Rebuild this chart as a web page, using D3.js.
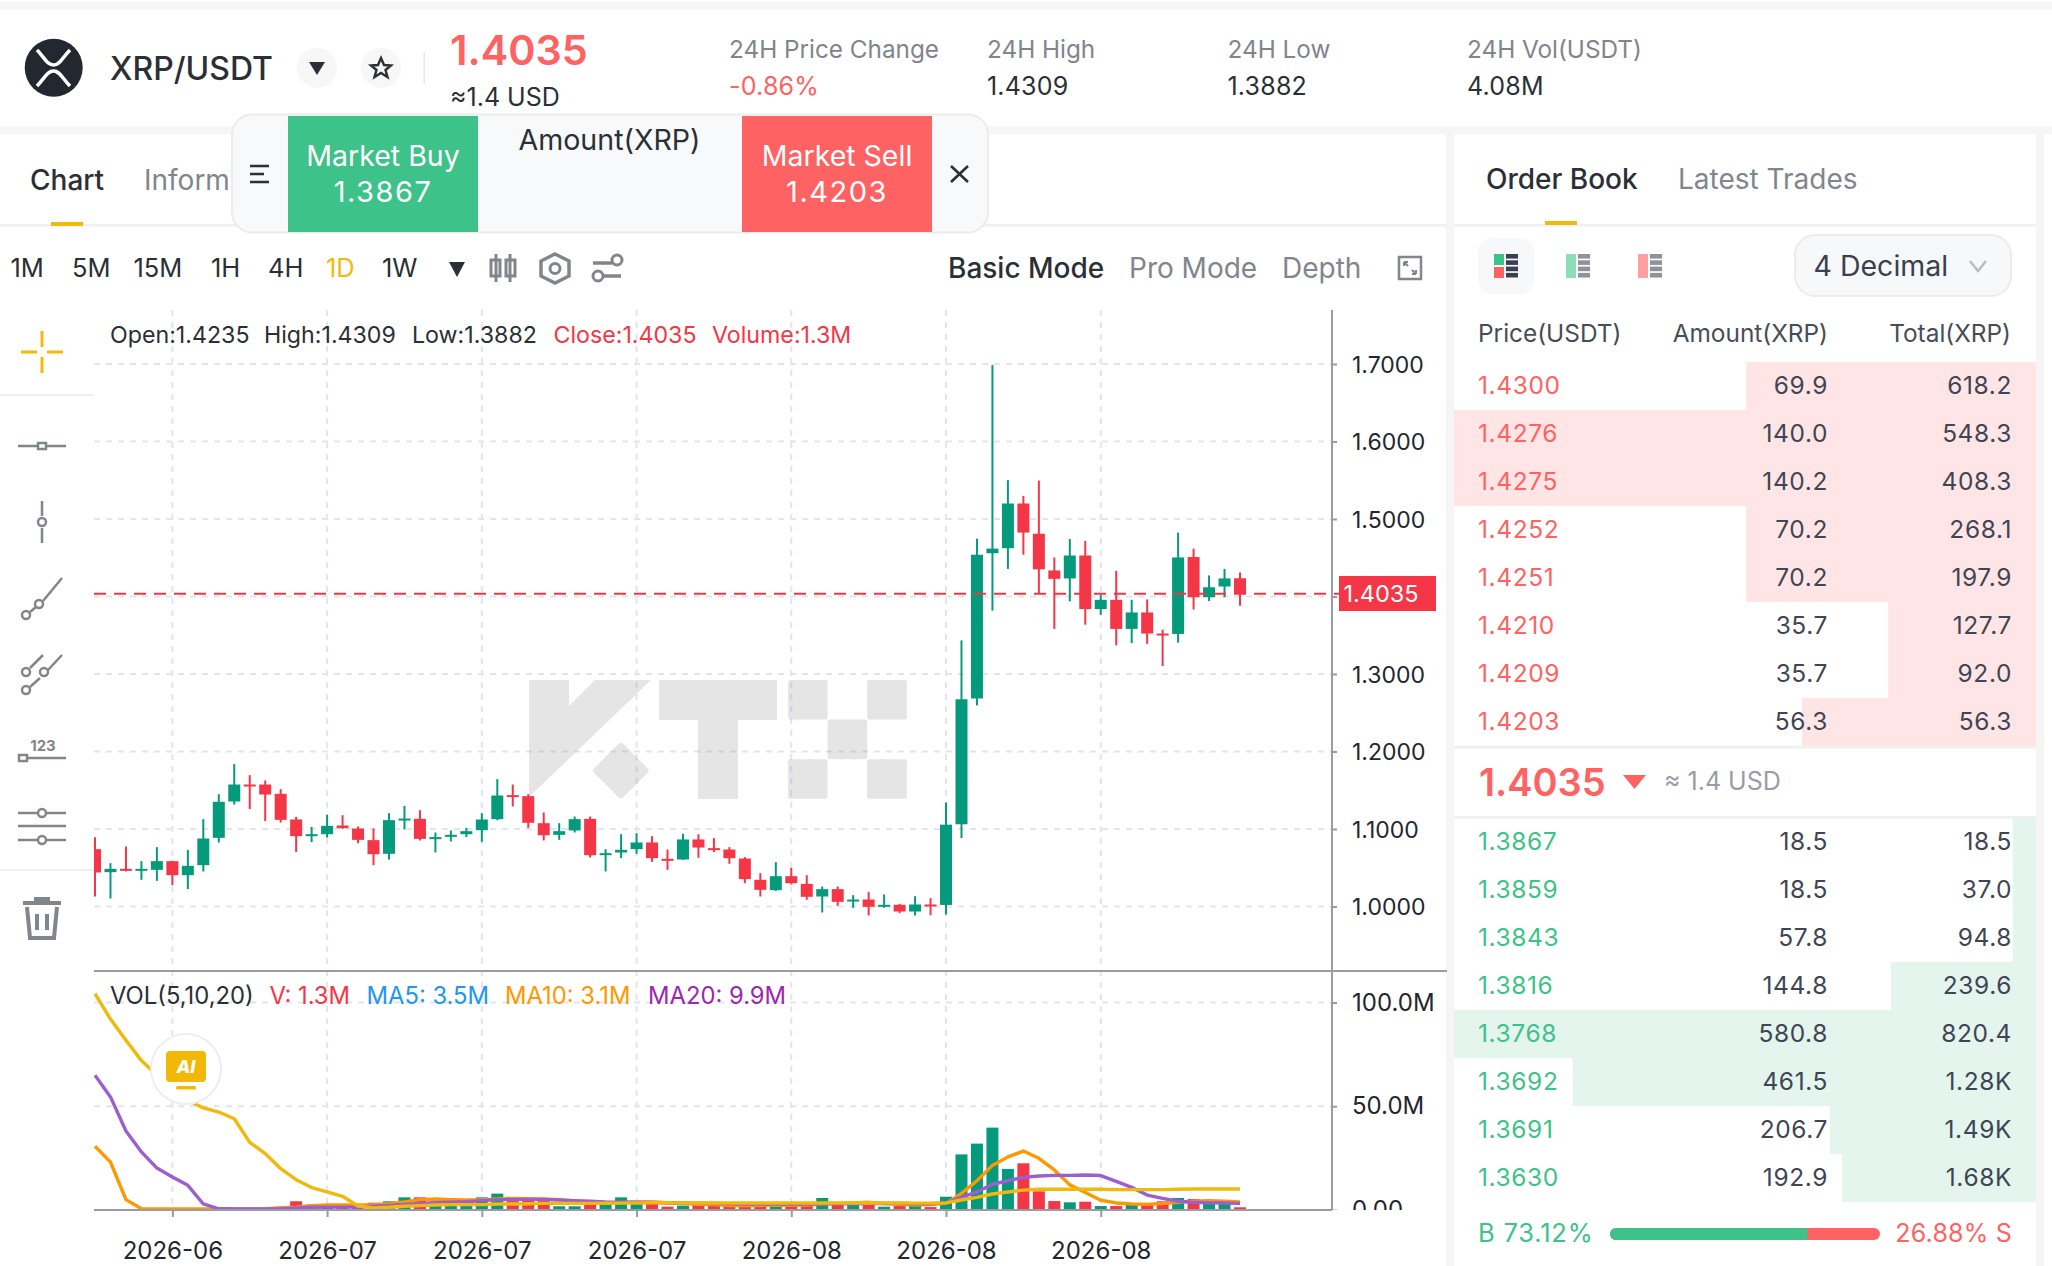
<!DOCTYPE html>
<html>
<head>
<meta charset="utf-8">
<script src="https://cdn.jsdelivr.net/npm/d3@7"></script>
<style>
    html, body { margin: 0; padding: 0; background: #fff; }
    svg { display: block; }
    text { font-family: Inter, "Noto Sans", sans-serif; }
    .axis path { display: none; }
    .axis line { stroke: #9a9ba3; stroke-width: 2; }
    .axis text { font-size: 24px; fill: #23262f; font-family: Inter, sans-serif; }
    .axis.price text { font-size: 23px; }
</style>
</head>
<body>
<script>
// candles
const opens = [1.0740,1.0443,1.0486,1.0465,1.0473,1.0585,1.0404,1.0533,1.0886,1.1355,1.1574,1.1574,1.1454,1.1123,1.0908,1.0933,1.1045,1.1006,1.0856,1.0680,1.1110,1.1131,1.0869,1.0899,1.0933,1.0985,1.1127,1.1437,1.1424,1.1075,1.0925,1.0981,1.1131,1.0667,1.0697,1.0740,1.0826,1.0615,1.0606,1.0865,1.0753,1.0735,1.0619,1.0344,1.0211,1.0391,1.0292,1.0129,1.0224,1.0065,1.0090,0.9996,1.0022,0.9935,1.0026,1.0020,1.1061,1.2684,1.4558,1.4623,1.5200,1.4810,1.4336,1.4233,1.4529,1.3838,1.3957,1.3582,1.3794,1.3522,1.3517,1.4509,1.3991,1.4129,1.4235];
const highs = [1.0895,1.0559,1.0774,1.0585,1.0766,1.0590,1.0731,1.1127,1.1449,1.1837,1.1695,1.1626,1.1514,1.1157,1.1028,1.1183,1.1178,1.1032,1.1006,1.1204,1.1299,1.1243,1.0955,1.0981,1.1015,1.1204,1.1643,1.1574,1.1449,1.1213,1.1075,1.1161,1.1161,1.0740,1.0933,1.0946,1.0908,1.0735,1.0938,1.0933,1.0882,1.0766,1.0637,1.0430,1.0572,1.0499,1.0404,1.0258,1.0258,1.0146,1.0189,1.0155,1.0034,1.0133,1.0108,1.1342,1.3434,1.4746,1.6986,1.5501,1.5298,1.5496,1.4504,1.4741,1.4716,1.4026,1.4331,1.3957,1.3962,1.3572,1.4825,1.4618,1.4272,1.4356,1.4309];
const lows = [1.0129,1.0103,1.0452,1.0344,1.0331,1.0275,1.0224,1.0452,1.0826,1.1316,1.1256,1.1101,1.1084,1.0705,1.0830,1.0890,1.1002,1.0817,1.0533,1.0606,1.0994,1.0852,1.0697,1.0839,1.0895,1.0834,1.1114,1.1290,1.1015,1.0852,1.0860,1.0955,1.0632,1.0452,1.0624,1.0680,1.0576,1.0473,1.0602,1.0628,1.0701,1.0551,1.0301,1.0129,1.0202,1.0284,1.0086,0.9923,1.0009,0.9983,0.9884,0.9983,0.9914,0.9884,0.9888,0.9896,1.0883,1.2595,1.3818,1.4356,1.4539,1.4036,1.3582,1.3937,1.3636,1.3764,1.3369,1.3399,1.3389,1.3103,1.3404,1.3833,1.3942,1.3991,1.3882];
const closes = [1.0439,1.0486,1.0460,1.0486,1.0585,1.0404,1.0525,1.0877,1.1351,1.1574,1.1553,1.1445,1.1118,1.0908,1.0933,1.1041,1.1011,1.0860,1.0675,1.1114,1.1135,1.0873,1.0895,1.0925,1.0972,1.1123,1.1432,1.1419,1.1080,1.0920,1.0972,1.1127,1.0662,1.0688,1.0731,1.0826,1.0624,1.0598,1.0865,1.0761,1.0735,1.0624,1.0353,1.0215,1.0391,1.0301,1.0125,1.0224,1.0060,1.0090,0.9996,1.0022,0.9935,1.0026,1.0013,1.1056,1.2674,1.4539,1.4618,1.5200,1.4825,1.4351,1.4228,1.4529,1.3838,1.3957,1.3582,1.3794,1.3522,1.3503,1.4504,1.3991,1.4119,1.4233,1.4035];
const volumes = [0.3,0.3,0.3,0.2,0.2,0.2,0.2,0.2,0.3,0.3,0.3,0.5,1.4,4.2,2.6,2.7,1.8,2.2,3.5,4.2,6.1,6.1,4.0,3.0,3.4,6.1,7.9,4.3,5.0,5.0,1.8,1.8,3.0,2.9,6.1,3.2,3.5,1.6,2.1,2.4,2.1,1.8,2.2,2.6,2.2,2.2,2.4,5.8,2.7,2.7,2.7,1.6,1.9,2.2,1.4,6.4,26.8,32.0,39.7,19.8,22.5,9.0,4.3,3.7,4.0,1.9,1.9,2.9,3.2,4.2,5.8,5.3,2.9,2.9,1.3];

// the three lines on the volume pane
const lineA = [30.7,23.1,5.0,0.6,0.5,0.5,0.5,0.5,0.5,0.5,0.5,0.6,1.1,1.4,2.1,2.4,2.4,2.4,2.6,3.0,3.9,5.0,5.3,5.0,4.8,4.8,5.3,5.6,5.5,5.3,5.0,4.3,3.5,3.2,3.6,3.7,3.9,3.5,3.1,2.8,2.6,2.2,2.2,2.2,2.3,2.3,2.4,3.0,3.2,3.4,3.7,3.1,2.7,2.4,2.6,3.2,8.0,14.1,21.5,25.6,28.4,24.9,19.3,12.1,8.4,4.7,3.4,2.9,2.7,3.1,3.7,4.3,4.5,4.3,3.9];
const lineB = [64.9,54.5,38.1,28.0,20.2,15.9,11.9,2.9,0.6,0.5,0.5,0.5,0.5,1.0,1.3,1.4,1.4,1.4,1.8,2.2,2.7,3.2,3.5,3.7,4.0,4.5,5.0,5.1,5.1,5.1,4.8,4.5,4.2,3.9,3.8,3.7,3.6,3.5,3.4,3.3,3.1,3.0,2.9,2.9,2.9,2.9,2.9,3.0,3.0,3.0,3.1,3.1,3.1,3.0,3.0,3.5,6.1,8.7,12.4,14.1,15.7,16.4,16.7,16.7,16.9,16.6,13.8,10.9,7.2,5.6,4.2,3.7,3.5,3.4,3.2];
const lineC = [104.3,92.0,81.8,72.0,65.0,58.5,52.9,49.2,47.2,44.0,32.6,27.2,19.9,14.6,10.8,8.7,6.6,1.9,1.0,1.3,1.8,2.1,2.4,2.6,2.6,2.6,2.9,2.9,3.0,3.2,3.2,3.2,3.2,3.3,3.3,3.4,3.5,3.5,3.4,3.4,3.4,3.4,3.4,3.4,3.4,3.4,3.4,3.4,3.4,3.4,3.5,3.4,3.4,3.3,3.3,3.4,4.8,6.1,7.7,8.7,9.6,10.0,10.0,10.0,10.0,10.0,9.8,9.8,9.8,9.8,10.0,10.1,10.1,10.1,10.1];

const priceTicks = [1.0,1.1,1.2,1.3,1.4,1.5,1.6,1.7];
const volTicks = [0,50,100];
const timeTicks = [5,15,25,35,45,55,65];
const timeLabels = ['2026-06','2026-07','2026-07','2026-07','2026-08','2026-08','2026-08'];

// order book
const askPrices = ['1.4300','1.4276','1.4275','1.4252','1.4251','1.4210','1.4209','1.4203'];
const askAmounts = ['69.9','140.0','140.2','70.2','70.2','35.7','35.7','56.3'];
const askTotals = ['618.2','548.3','408.3','268.1','197.9','127.7','92.0','56.3'];
const askDepth = [0.498,1,1,0.498,0.498,0.254,0.254,0.402];
const bidPrices = ['1.3867','1.3859','1.3843','1.3816','1.3768','1.3692','1.3691','1.3630'];
const bidAmounts = ['18.5','18.5','57.8','144.8','580.8','461.5','206.7','192.9'];
const bidTotals = ['18.5','37.0','94.8','239.6','820.4','1.28K','1.49K','1.68K'];
const bidDepth = [0.04,0.04,0.04,0.249,1,0.796,0.354,0.333];
const buyShare = 73.12;

const periods = ['1M','5M','15M','1H','4H','1D','1W'];
const periodX = [10.5,72,133.5,211,268,326,382];

const up = '#069a7d', down = '#f43647', red = '#ff6262', green = '#3dc28a', gold = '#f0b90b', gray = '#81858c', dark = '#2b2f36';

const svg = d3.select('body').append('svg').attr('width', 2052).attr('height', 1266);

const defs = svg.append('defs');
defs.append('clipPath').attr('id', 'plot').append('rect').attr('x', 94).attr('y', 300).attr('width', 1238).attr('height', 910);
defs.append('clipPath').attr('id', 'volaxis').append('rect').attr('x', 1325).attr('y', 975).attr('width', 130).attr('height', 235);

function label(g, x, y, str, size, color, anchor, weight) {
    return g.append('text')
        .attr('x', x).attr('y', y)
        .attr('font-size', size)
        .attr('fill', color)
        .attr('text-anchor', anchor || 'start')
        .attr('font-weight', weight || 400)
        .text(str);
}

function box(g, x, y, w, h, fill, r) {
    return g.append('rect').attr('x', x).attr('y', y).attr('width', w).attr('height', h).attr('fill', fill).attr('rx', r || 0);
}

function icon(g, d, color, width) {
    return g.append('path').attr('d', d).attr('fill', 'none').attr('stroke', color || gray).attr('stroke-width', width || 3);
}

// page bands
box(svg, 0, 0, 2052, 1266, '#fff');
box(svg, 0, 2, 2052, 8, '#f5f5f5');
box(svg, 0, 126, 2052, 8, '#f5f5f5');
box(svg, 1446, 134, 8, 1132, '#f5f5f5');
box(svg, 2036, 134, 8, 1132, '#f5f5f5');
box(svg, 0, 224, 1446, 2.5, '#f0f0f0');
box(svg, 1454, 224, 582, 2.5, '#f0f0f0');

// scales
const x = d3.scaleLinear().domain([0, 74]).range([95, 1240]);
const y = d3.scaleLinear().domain([1, 1.7]).range([906.5, 364]);
const yVol = d3.scaleLinear().domain([0, 100]).range([1210, 1002.5]);
const bodyW = 12;

// grid
const grid = svg.append('g').attr('stroke', '#e3e4ee').attr('stroke-width', 2).attr('stroke-dasharray', '6 6');
grid.selectAll('.h').data(priceTicks).join('line').attr('x1', 94).attr('x2', 1332).attr('y1', d => y(d)).attr('y2', d => y(d));
grid.selectAll('.v').data(timeTicks).join('line').attr('x1', d => x(d)).attr('x2', d => x(d)).attr('y1', 310).attr('y2', 1210);
grid.selectAll('.hv').data(volTicks.slice(1)).join('line').attr('x1', 94).attr('x2', 1332).attr('y1', d => yVol(d)).attr('y2', d => yVol(d));

// watermark
const mark = svg.append('g').attr('fill', '#8c8c8c').attr('opacity', 0.22);
mark.append('path').attr('d', 'M529 680H569V706L595 680H651L529 797Z');
mark.append('rect').attr('x', 600).attr('y', 750).attr('width', 41).attr('height', 41).attr('rx', 3).attr('transform', 'rotate(45 620.7 771)');
mark.append('path').attr('d', 'M659 680H777V720H738V799H698V720H659Z');
[[0, 0], [2, 0], [1, 1], [0, 2], [2, 2]].forEach(c => {
    mark.append('rect').attr('x', 788 + c[0] * 39.6).attr('y', 680 + c[1] * 39.6).attr('width', 39.6).attr('height', 39.6).attr('rx', 2);
});

// candles
const plot = svg.append('g').attr('clip-path', 'url(#plot)');
const isUp = i => closes[i] >= opens[i];
plot.selectAll('.wick').data(d3.range(opens.length)).join('line')
    .attr('x1', i => x(i)).attr('x2', i => x(i))
    .attr('y1', i => y(highs[i])).attr('y2', i => y(lows[i]))
    .attr('stroke', i => isUp(i) ? up : down).attr('stroke-width', 2);
plot.selectAll('.body').data(d3.range(opens.length)).join('rect')
    .attr('x', i => x(i) - bodyW / 2).attr('width', bodyW)
    .attr('y', i => y(Math.max(opens[i], closes[i])))
    .attr('height', i => Math.max(2, Math.abs(y(opens[i]) - y(closes[i]))))
    .attr('fill', i => isUp(i) ? up : down);

// last price line
const lastPrice = closes[closes.length - 1];
svg.append('line').attr('x1', 94).attr('x2', 1339).attr('y1', y(lastPrice)).attr('y2', y(lastPrice))
    .attr('stroke', down).attr('stroke-width', 2).attr('stroke-dasharray', '12 8');

// volume bars and lines
plot.selectAll('.vol').data(volumes).join('rect')
    .attr('x', (d, i) => x(i) - bodyW / 2).attr('width', bodyW)
    .attr('y', d => yVol(d)).attr('height', d => 1210 - yVol(d))
    .attr('fill', (d, i) => isUp(i) ? up : down);
const volLine = d3.line().x((d, i) => x(i)).y(d => yVol(d));
[[lineA, '#ff9800'], [lineB, '#9c5fcf'], [lineC, '#f0b90b']].forEach(s => {
    plot.append('path').attr('d', volLine(s[0])).attr('fill', 'none').attr('stroke', s[1]).attr('stroke-width', 3.4).attr('stroke-linejoin', 'round');
});

// axes
svg.append('line').attr('x1', 1332).attr('x2', 1332).attr('y1', 310).attr('y2', 1210).attr('stroke', '#9a9ba3').attr('stroke-width', 2);
svg.append('line').attr('x1', 94).attr('x2', 1447).attr('y1', 971).attr('y2', 971).attr('stroke', '#9a9ba3').attr('stroke-width', 2);
svg.append('line').attr('x1', 94).attr('x2', 1332).attr('y1', 1210).attr('y2', 1210).attr('stroke', '#9a9ba3').attr('stroke-width', 2);

// the 1.4000 label sits under the price tag, so it stays blank
svg.append('g').attr('class', 'axis price').attr('transform', 'translate(1332,0)')
    .call(d3.axisRight(y).tickValues(priceTicks).tickFormat(d => d === 1.4 ? '' : d3.format('.4f')(d)).tickSize(5).tickPadding(15))
    .selectAll('text').attr('dy', '0.36em');
svg.append('g').attr('clip-path', 'url(#volaxis)').append('g').attr('class', 'axis').attr('transform', 'translate(1332,0)')
    .call(d3.axisRight(yVol).tickValues(volTicks).tickFormat(d => d === 0 ? '0.00' : d.toFixed(1) + 'M').tickSize(5).tickPadding(15));
svg.append('g').attr('class', 'axis').attr('transform', 'translate(0,1210)')
    .call(d3.axisBottom(x).tickValues(timeTicks).tickFormat((d, i) => timeLabels[i]).tickSize(7).tickPadding(25));

// price tag
box(svg, 1339, 576, 97, 35, down);
label(svg, 1381, 602, d3.format('.4f')(lastPrice), 23.5, '#fff', 'middle');

// ohlc legend
[['Open:1.4235', 110, dark], ['High:1.4309', 264, dark], ['Low:1.3882', 412, dark], ['Close:1.4035', 553.5, down], ['Volume:1.3M', 712, down]].forEach(d => {
    label(svg, d[1], 343, d[0], 23.2, d[2]);
});
[['VOL(5,10,20)', 110, dark], ['V: 1.3M', 269.5, down], ['MA5: 3.5M', 366.5, '#2196f3'], ['MA10: 3.1M', 505, '#ff9800'], ['MA20: 9.9M', 648, '#9c27b0']].forEach(d => {
    label(svg, d[1], 1004, d[0], 23.8, d[2]);
});

// AI button
svg.append('circle').attr('cx', 186).attr('cy', 1069).attr('r', 35).attr('fill', '#fff').attr('stroke', '#eeeeee').attr('stroke-width', 2);
box(svg, 166, 1051, 40, 31, '#f1b807', 4);
box(svg, 176, 1086, 20, 3.5, '#f1b807', 1.5);
label(svg, 186, 1073, 'AI', 18, '#fff', 'middle', 800).attr('font-style', 'italic');

// header
svg.append('circle').attr('cx', 53.7).attr('cy', 67.7).attr('r', 29).attr('fill', '#23272f');
icon(svg, 'M37 50C45 58 47 65 53.7 65C60 65 62 58 70 50M37 86C45 78 47 71 53.7 71C60 71 62 78 70 86', '#fff', 3.5);
label(svg, 110, 80, 'XRP/USDT', 32, dark, 'start', 500);
svg.append('circle').attr('cx', 317).attr('cy', 67.7).attr('r', 20).attr('fill', '#f7f7f7');
svg.append('path').attr('d', 'M309 62H325L317 75Z').attr('fill', dark);
svg.append('circle').attr('cx', 381).attr('cy', 67.7).attr('r', 20).attr('fill', '#f7f7f7');
icon(svg, 'M381 58L384 65L391 65.5L385.5 70L387.5 77L381 73L374.5 77L376.5 70L371 65.5L378 65Z', dark, 2.4);
box(svg, 423.5, 52, 1.5, 32, '#e8e8e8');
label(svg, 450, 65, '1.4035', 41.3, red, 'start', 600);
label(svg, 450, 106, '≈1.4 USD', 25, dark);

[['24H Price Change', 729, '-0.86%', red], ['24H High', 987, '1.4309', dark], ['24H Low', 1227.5, '1.3882', dark], ['24H Vol(USDT)', 1467, '4.08M', dark]].forEach(d => {
    label(svg, d[1], 58, d[0], 24.3, gray);
    label(svg, d[1], 94.5, d[2], 25, d[3]).attr('letter-spacing', 0.2);
});

// tabs behind the floating panel
label(svg, 30, 190, 'Chart', 28, dark, 'start', 500);
label(svg, 144, 190, 'Information', 28, gray);
box(svg, 51, 222, 32, 4, gold);

// floating order panel
box(svg, 232, 114.5, 756, 118, '#f8f9fb', 20).attr('stroke', '#ececec').attr('stroke-width', 2);
box(svg, 288, 116, 190, 116, green);
box(svg, 742, 116, 190, 116, red);
label(svg, 383, 166, 'Market Buy', 28.5, '#fff', 'middle');
label(svg, 383, 202, '1.3867', 29, '#fff', 'middle').attr('letter-spacing', 1.5);
label(svg, 837, 166, 'Market Sell', 28.5, '#fff', 'middle');
label(svg, 837, 202, '1.4203', 29, '#fff', 'middle').attr('letter-spacing', 1.5);
label(svg, 609.5, 150, 'Amount(XRP)', 28.6, dark, 'middle');
icon(svg, 'M250 166H269M250 174H264M250 182H269', dark, 2.6);
icon(svg, 'M951 166L968 182M968 166L951 182', dark, 2.6);

// time toolbar
periods.forEach((p, i) => {
    label(svg, periodX[i], 276.5, p, 25.5, p === '1D' ? gold : dark);
});
svg.append('path').attr('d', 'M449 262H465L457 277Z').attr('fill', dark);
icon(svg, 'M496 254V282M510 254V282', gray, 3);
svg.append('rect').attr('x', 491).attr('y', 260).attr('width', 9).attr('height', 16).attr('fill', 'none').attr('stroke', gray).attr('stroke-width', 3);
svg.append('rect').attr('x', 506).attr('y', 260).attr('width', 9).attr('height', 16).attr('fill', 'none').attr('stroke', gray).attr('stroke-width', 3);
icon(svg, 'M555 254L569 261V276L555 283L541 276V261Z', gray, 3.5);
svg.append('circle').attr('cx', 555).attr('cy', 268.5).attr('r', 5).attr('fill', 'none').attr('stroke', gray).attr('stroke-width', 3);
icon(svg, 'M593 263H612M604 276H621', gray, 3.5);
svg.append('circle').attr('cx', 617).attr('cy', 260).attr('r', 5).attr('fill', 'none').attr('stroke', gray).attr('stroke-width', 3);
svg.append('circle').attr('cx', 598).attr('cy', 276).attr('r', 5).attr('fill', 'none').attr('stroke', gray).attr('stroke-width', 3);

label(svg, 948, 278, 'Basic Mode', 28, dark, 'start', 500);
label(svg, 1129, 278, 'Pro Mode', 28, gray);
label(svg, 1282, 278, 'Depth', 28, gray);
svg.append('rect').attr('x', 1399).attr('y', 257).attr('width', 22).attr('height', 22).attr('fill', 'none').attr('stroke', gray).attr('stroke-width', 2.5);
icon(svg, 'M1404 262L1408 266M1404 262H1408M1404 262V266M1416 274L1412 270M1416 274H1412M1416 274V270', gray, 2);

// left drawing tools
icon(svg, 'M42 331V347M42 357V373M21 352H37M47 352H63', '#f5b90a', 3);
box(svg, 0, 394, 94, 2, '#efefef');
box(svg, 0, 869, 94, 2, '#efefef');
icon(svg, 'M18 446H37M47 446H66', gray, 2.5);
svg.append('rect').attr('x', 38).attr('y', 443).attr('width', 8).attr('height', 6).attr('fill', 'none').attr('stroke', gray).attr('stroke-width', 2.5);
icon(svg, 'M42 501V516M42 528V543', gray, 2.5);
svg.append('circle').attr('cx', 42).attr('cy', 522).attr('r', 4).attr('fill', 'none').attr('stroke', gray).attr('stroke-width', 2.5);
icon(svg, 'M30 612L36 607M43 601L62 578', gray, 2.5);
[[26, 615], [39, 604]].forEach(c => svg.append('circle').attr('cx', c[0]).attr('cy', c[1]).attr('r', 4).attr('fill', 'none').attr('stroke', gray).attr('stroke-width', 2.5));
icon(svg, 'M30 687L40 678M48 670L62 655M30 668L43 655', gray, 2.5);
[[26, 690], [26, 672], [44, 672]].forEach(c => svg.append('circle').attr('cx', c[0]).attr('cy', c[1]).attr('r', 4).attr('fill', 'none').attr('stroke', gray).attr('stroke-width', 2.5));
icon(svg, 'M27 758H66', gray, 2.5);
svg.append('rect').attr('x', 19).attr('y', 755).attr('width', 8).attr('height', 6).attr('fill', 'none').attr('stroke', gray).attr('stroke-width', 2.5);
label(svg, 43, 751, '123', 15, gray, 'middle', 700);
icon(svg, 'M18 813H37M47 813H66M18 826H66M18 840H37M47 840H66', gray, 2.5);
[[42, 813], [42, 840]].forEach(c => svg.append('circle').attr('cx', c[0]).attr('cy', c[1]).attr('r', 4).attr('fill', 'none').attr('stroke', gray).attr('stroke-width', 2.5));
icon(svg, 'M23 903H61M34 899H50M27 907L30 938H54L57 907M37 914V930M47 914V930', gray, 4);

// order book panel
label(svg, 1486, 189, 'Order Book', 28, dark, 'start', 500);
label(svg, 1678, 189, 'Latest Trades', 28, gray);
box(svg, 1545, 221, 32, 4, gold);

box(svg, 1478, 238, 56, 56, '#f7f8fa', 14);
box(svg, 1494, 254, 10, 11, green);
box(svg, 1494, 267, 10, 11, red);
box(svg, 1566, 254, 10, 24, '#8fdcb8');
box(svg, 1638, 254, 10, 24, '#ffa0a0');
[[1506, '#3a4050'], [1578, '#8f9298'], [1650, '#8f9298']].forEach(c => {
    d3.range(4).forEach(k => box(svg, c[0], 254 + k * 6.3, 12, 4.6, c[1]));
});

box(svg, 1795, 235, 216, 61, '#f7f8fa', 20).attr('stroke', '#ececec').attr('stroke-width', 2);
label(svg, 1813.5, 276, '4 Decimal', 28.5, '#3a4050');
icon(svg, 'M1970 261L1978 271L1986 261', '#b9bcc2', 2.5);

label(svg, 1478, 342, 'Price(USDT)', 24.4, '#474d57');
label(svg, 1828, 342, 'Amount(XRP)', 24.4, '#474d57', 'end');
label(svg, 2011, 342, 'Total(XRP)', 24.4, '#474d57', 'end');

const depth = d3.scaleLinear().domain([0, 1]).range([0, 582]);

function bookRows(top, prices, amounts, totals, depths, barColor, textColor) {
    const rows = svg.append('g');
    prices.forEach((p, i) => {
        const rowY = top + i * 48;
        box(rows, 2036 - depth(depths[i]), rowY, depth(depths[i]), 48, barColor);
        label(rows, 1478, rowY + 32, p, 24.5, textColor).attr('letter-spacing', 0.6);
        label(rows, 1828, rowY + 32, amounts[i], 24.5, '#3f4554', 'end').attr('letter-spacing', 0.6);
        label(rows, 2012, rowY + 32, totals[i], 24.5, '#3f4554', 'end').attr('letter-spacing', 0.6);
    });
}

bookRows(362, askPrices, askAmounts, askTotals, askDepth, '#ffe5e5', red);
bookRows(818, bidPrices, bidAmounts, bidTotals, bidDepth, '#e3f5ec', green);

box(svg, 1454, 746, 582, 2.5, '#f0f0f0');
box(svg, 1454, 816, 582, 2.5, '#f0f0f0');
label(svg, 1479, 796, '1.4035', 38, red, 'start', 600);
svg.append('path').attr('d', 'M1623 775H1646L1634.5 789Z').attr('fill', red);
label(svg, 1664, 790, '≈ 1.4 USD', 25, '#9a9ca5');

// buy / sell ratio
const ratio = d3.scaleLinear().domain([0, 100]).range([1610, 1880]);
svg.append('rect').attr('x', ratio(0)).attr('y', 1228).attr('width', ratio(100) - ratio(0)).attr('height', 12).attr('rx', 6).attr('fill', red);
svg.append('path').attr('d', `M${ratio(buyShare)} 1228H${ratio(0) + 6}a6 6 0 0 0 0 12H${ratio(buyShare)}Z`).attr('fill', green);
label(svg, 1478, 1242, 'B ' + buyShare + '%', 25.5, green).attr('letter-spacing', 0.8);
label(svg, 2012, 1242, d3.format('.2f')(100 - buyShare) + '% S', 25, red, 'end').attr('letter-spacing', 0.2);
</script>
</body>
</html>
